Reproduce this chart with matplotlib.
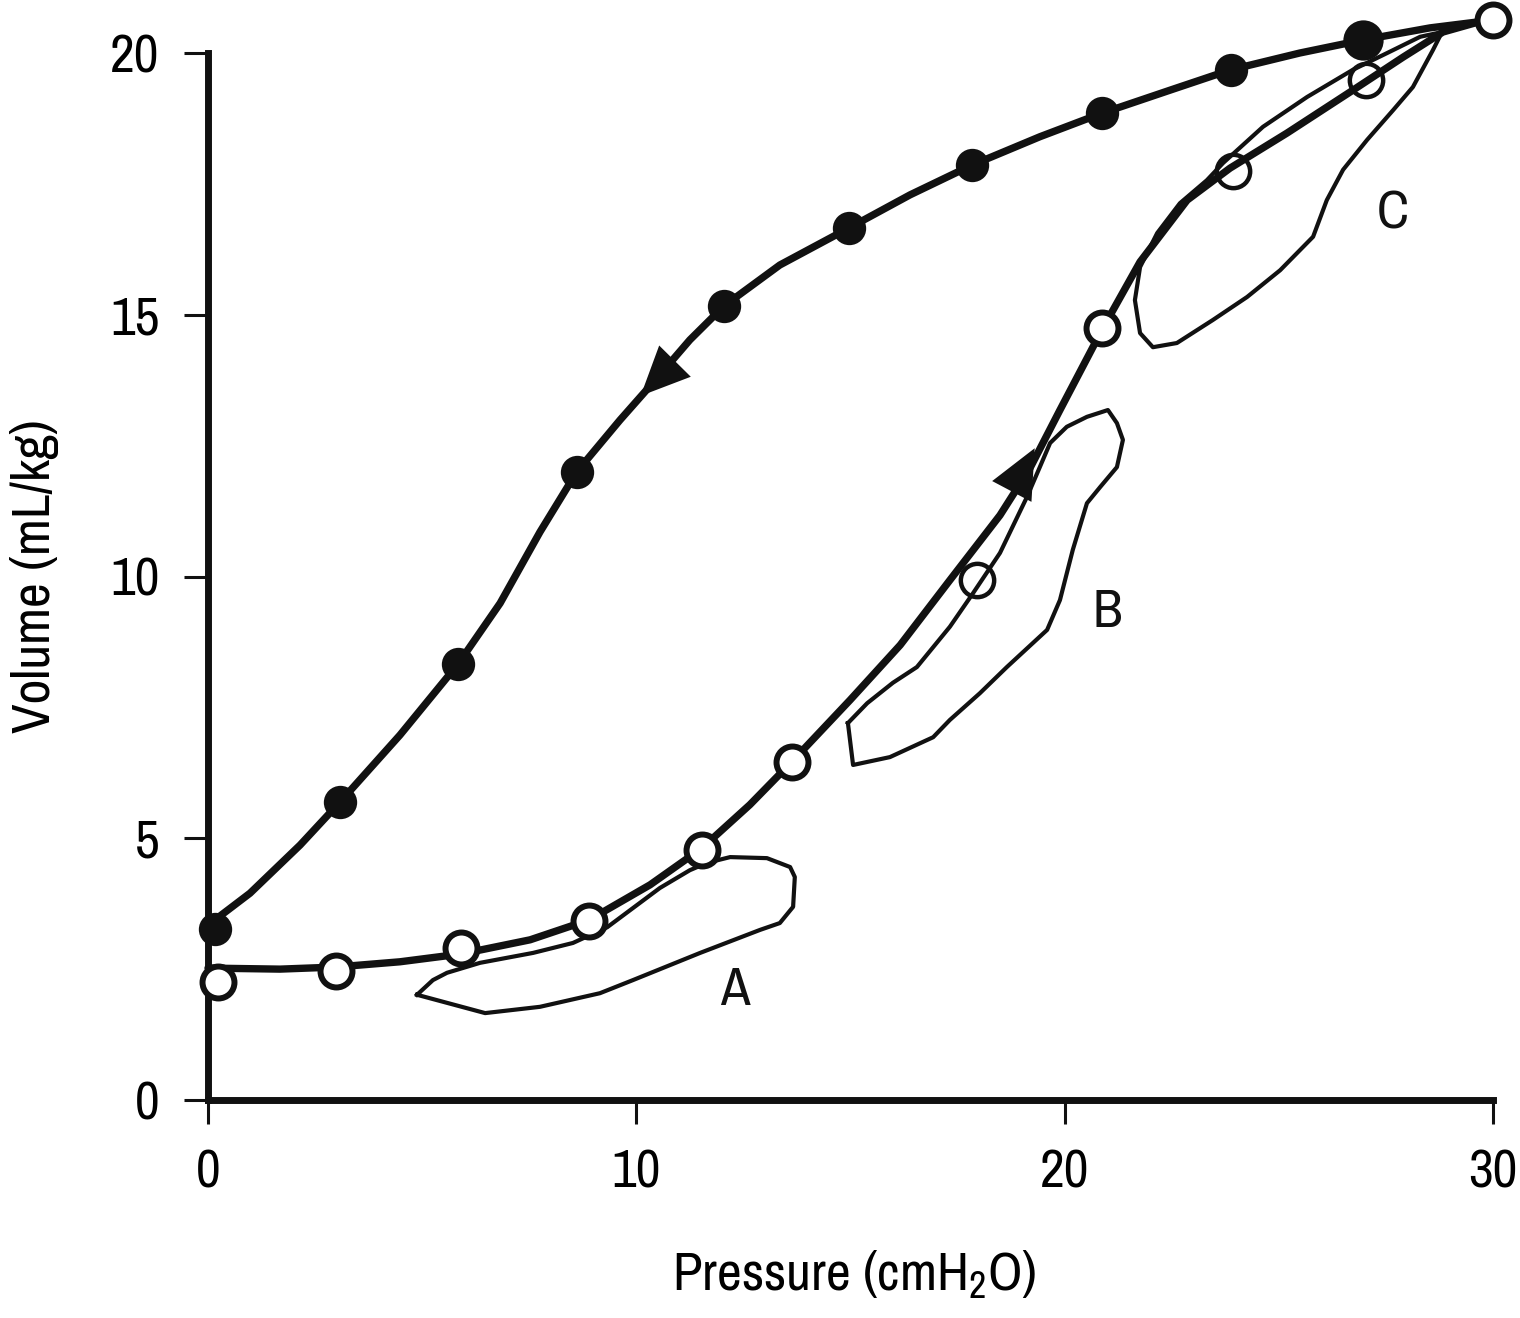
import matplotlib
matplotlib.use("Agg")
import matplotlib.pyplot as plt
from matplotlib import font_manager

# narrow grotesque for all text, first one that is installed
names = {f.name for f in font_manager.fontManager.ttflist}
wanted = ["Nimbus Sans Narrow", "Liberation Sans Narrow", "Arial Narrow", "Archivo Narrow",
          "Roboto Condensed", "PT Sans Narrow", "Liberation Sans"]
family = next(n for n in wanted if n in names or n == "Liberation Sans")
plt.rcParams["font.family"] = [family, "DejaVu Sans"]
plt.rcParams["mathtext.fontset"] = "custom"
plt.rcParams["mathtext.rm"] = family

# deflation limb (filled points), pressure cmH2O / volume mL/kg
defl_p = [0, 0.98, 2.15, 3.08, 4.48, 5.84, 6.82, 7.75, 8.61, 9.62, 10.44, 11.25,
          12.05, 13.35, 14.97, 16.39, 17.84, 19.42, 20.87, 22.46, 23.88, 25.49,
          26.97, 28.53, 30.0]
defl_v = [3.34, 3.95, 4.87, 5.69, 6.97, 8.33, 9.49, 10.85, 12.0, 12.99, 13.75, 14.52,
          15.17, 15.95, 16.66, 17.29, 17.86, 18.40, 18.85, 19.29, 19.68, 20.0,
          20.25, 20.48, 20.63]
dots_p = [0.16, 3.08, 5.84, 8.61, 12.05, 14.97, 17.84, 20.87, 23.88]
dots_v = [3.27, 5.69, 8.33, 12.0, 15.17, 16.66, 17.86, 18.85, 19.68]
big_dot = (26.97, 20.25)

# inflation limb (open points)
infl_p = [0, 1.68, 2.99, 4.48, 5.91, 7.52, 8.90, 10.32, 11.53, 12.65, 13.63, 14.99,
          16.16, 17.32, 18.49, 19.19, 19.89, 20.87, 21.76, 22.86, 23.86, 25.19,
          26.73, 27.90, 28.83, 30.0]
infl_v = [2.52, 2.50, 2.54, 2.64, 2.79, 3.06, 3.44, 4.11, 4.81, 5.64, 6.46, 7.64,
          8.69, 9.93, 11.17, 12.07, 13.18, 14.71, 16.01, 17.19, 17.80, 18.47,
          19.29, 19.92, 20.40, 20.67]
circ_p = [0.23, 2.99, 5.91, 8.90, 11.53, 13.63, 20.87, 30.0]
circ_v = [2.25, 2.46, 2.90, 3.42, 4.78, 6.46, 14.75, 20.63]
small_circ_p = [17.95, 23.93, 27.04]
small_circ_v = [9.93, 17.75, 19.48]

# tidal loops
loop_a_p = [4.88, 6.47, 7.75, 9.15, 9.92, 11.49, 12.89, 13.35, 13.66, 13.70, 13.59,
            13.05, 12.19, 11.65, 11.25, 10.55, 9.32, 8.52, 7.59, 6.35, 5.58, 5.25, 4.88]
loop_a_v = [2.01, 1.66, 1.78, 2.04, 2.29, 2.81, 3.25, 3.38, 3.69, 4.26, 4.45,
            4.62, 4.64, 4.53, 4.39, 4.05, 3.30, 3.00, 2.81, 2.62, 2.43, 2.29, 2.01]
loop_b_p = [14.94, 15.06, 15.92, 16.93, 17.32, 18.02, 18.65, 19.59, 19.89, 20.19,
            20.52, 20.83, 21.22, 21.36, 21.22, 21.01, 20.52, 20.05, 19.66, 19.42,
            19.12, 18.49, 17.86, 17.32, 16.55, 15.99, 15.39, 14.94]
loop_b_v = [7.20, 6.40, 6.55, 6.93, 7.26, 7.77, 8.27, 8.98, 9.55, 10.51,
            11.40, 11.71, 12.09, 12.61, 12.93, 13.18, 13.05, 12.86, 12.55, 12.09,
            11.52, 10.45, 9.68, 9.04, 8.27, 7.97, 7.58, 7.20]
loop_c_p = [28.81, 28.60, 28.13, 27.67, 27.06, 26.50, 26.12, 25.80, 25.03, 24.26,
            23.46, 22.62, 22.06, 21.76, 21.64, 21.76, 22.16, 22.69, 23.32, 23.70,
            24.63, 25.66, 26.73, 27.53, 28.30, 28.81]
loop_c_v = [20.40, 20.06, 19.35, 18.91, 18.34, 17.77, 17.19, 16.49, 15.85, 15.34,
            14.90, 14.46, 14.38, 14.65, 15.28, 15.91, 16.56, 17.13, 17.57, 17.90,
            18.59, 19.16, 19.68, 20.00, 20.31, 20.40]

loop_labels = ["A", "B", "C"]
label_p = [12.30, 20.99, 27.67]
label_v = [2.10, 9.32, 16.94]

fig = plt.figure(figsize=(15.2, 13.18), dpi=100)
ax = fig.add_axes([208 / 1520, 1 - 1100 / 1318, 1285 / 1520, 1047 / 1318])

for lp, lv in [(loop_a_p, loop_a_v), (loop_b_p, loop_b_v), (loop_c_p, loop_c_v)]:
    ax.plot(lp, lv, color="#111111", lw=3.0, solid_joinstyle="round", clip_on=False)

ax.plot(defl_p, defl_v, color="#111111", lw=5.3, solid_capstyle="round",
        solid_joinstyle="round", clip_on=False)
ax.plot(infl_p, infl_v, color="#111111", lw=5.3, solid_capstyle="round",
        solid_joinstyle="round", clip_on=False)

ax.plot(dots_p, dots_v, "o", ms=24, color="#111111", mew=0, clip_on=False, zorder=4)
ax.plot(*big_dot, "o", ms=29, color="#111111", mew=0, clip_on=False, zorder=4)
ax.plot(circ_p, circ_v, "o", ms=23, mfc="white", mec="#111111", mew=4.3,
        clip_on=False, zorder=5)
ax.plot(small_circ_p, small_circ_v, "o", ms=24, mfc="none", mec="#111111", mew=3.2,
        clip_on=False, zorder=5)

# direction arrows on the two limbs
arrow = dict(arrowstyle="-|>,head_length=1.1,head_width=0.5", mutation_scale=32,
             color="#111111", lw=0, shrinkA=0, shrinkB=0)
ax.annotate("", xy=(10.1, 13.45), xytext=(10.97, 14.17), arrowprops=arrow)
ax.annotate("", xy=(19.3, 12.45), xytext=(18.75, 11.6), arrowprops=arrow)

for t, p, v in zip(loop_labels, label_p, label_v):
    ax.text(p, v, t, fontsize=39, ha="center", va="center", color="#111111")

ax.set_xlim(0, 30)
ax.set_ylim(0, 20)
ax.set_xticks([0, 10, 20, 30])
ax.set_yticks([0, 5, 10, 15, 20])
for s in ["top", "right"]:
    ax.spines[s].set_visible(False)
for s in ["left", "bottom"]:
    ax.spines[s].set_linewidth(5)
    ax.spines[s].set_color("#111111")
ax.tick_params(length=17, width=2.2, color="#111111", labelsize=39, pad=18)

fig.text(854 / 1520, 1 - 1290 / 1318, r"Pressure (cmH$_2$O)", fontsize=39,
         ha="center", va="baseline")
fig.text(35 / 1520, 1 - 576 / 1318, "Volume (mL/kg)", fontsize=39,
         ha="center", va="center", rotation=90)

fig.savefig("out.png", dpi=100)
